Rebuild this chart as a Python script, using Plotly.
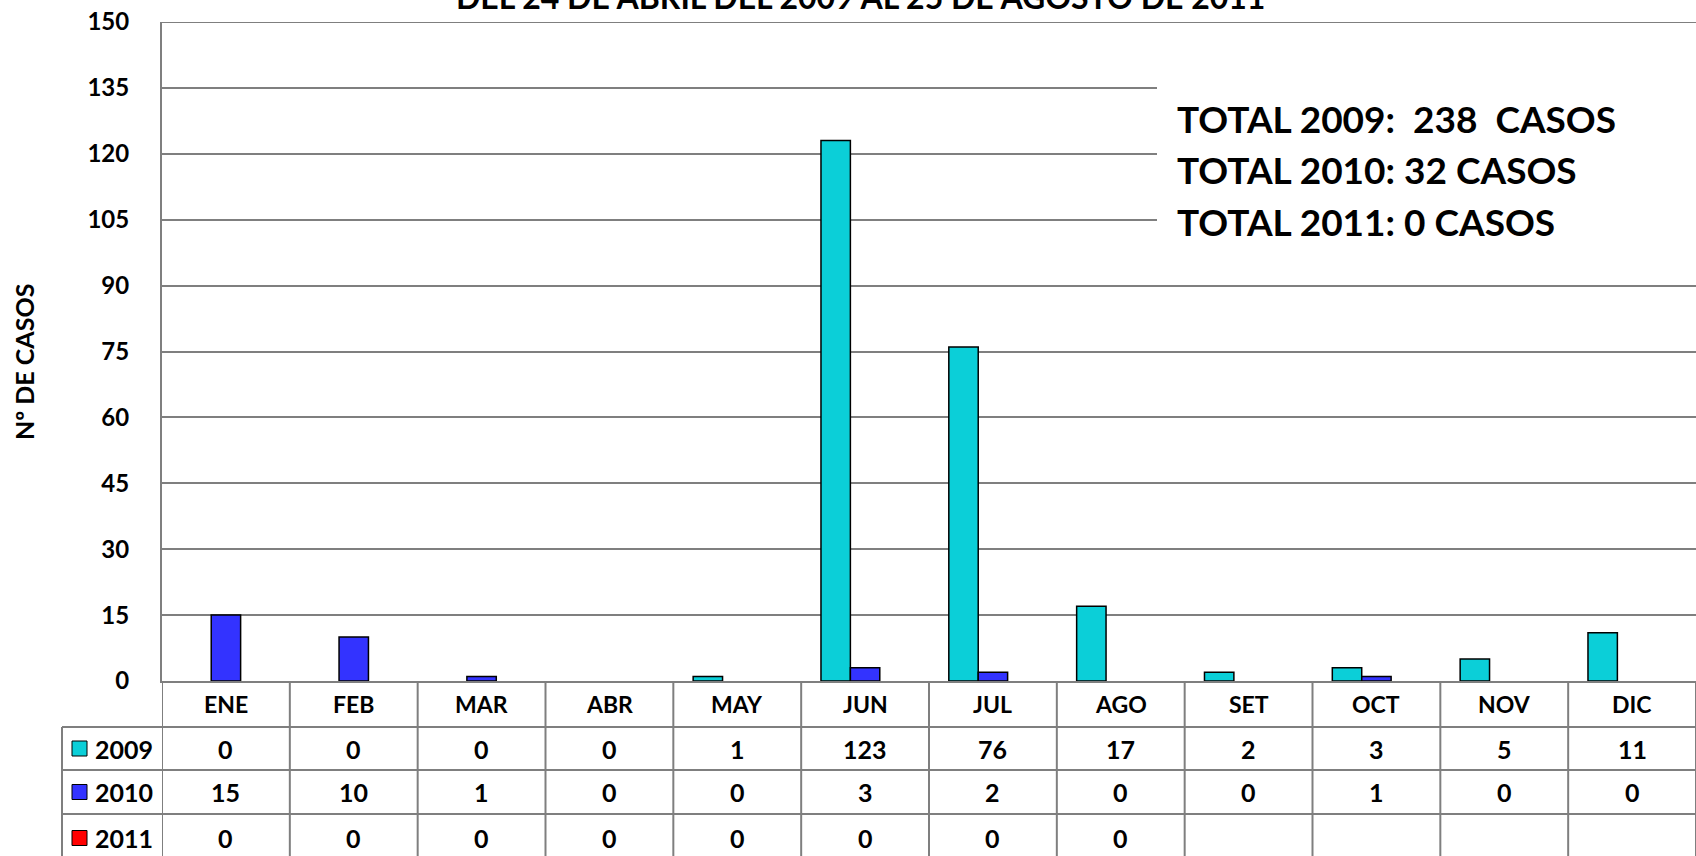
import plotly.graph_objects as go

months = ["ENE", "FEB", "MAR", "ABR", "MAY", "JUN", "JUL", "AGO", "SET", "OCT", "NOV", "DIC"]
series_names = ["2009", "2010", "2011"]
cases_2009 = [0, 0, 0, 0, 1, 123, 76, 17, 2, 3, 5, 11]
cases_2010 = [15, 10, 1, 0, 0, 3, 2, 0, 0, 1, 0, 0]
cases_2011 = [0, 0, 0, 0, 0, 0, 0, 0, None, None, None, None]
colors = ["#0BCFD8", "#3333FF", "#FF0000"]
y_ticks = [0, 15, 30, 45, 60, 75, 90, 105, 120, 135, 150]
totals_text = ["TOTAL 2009:  238  CASOS", "TOTAL 2010: 32 CASOS", "TOTAL 2011: 0 CASOS"]
title_text = "DEL 24 DE ABRIL DEL 2009 AL 25 DE AGOSTO DE 2011"
y_title = "Nº DE CASOS"

series = [cases_2009, cases_2010, cases_2011]

W, H = 1696, 856
S_LEFT, S_TOP, S_BOT = 162, 22, 681
L, T = S_LEFT, S_TOP
B = H - S_BOT
R = 0
PW, PH = W - L - R, H - T - B
FONT = "Lato, Open Sans, sans-serif"
GRID = "#7f7f7f"


def yp(spx):
    return (S_BOT - spx) / PH


def xp(spx):
    return (spx - S_LEFT) / PW


fig = go.Figure()
for name, vals, col in zip(series_names, series, colors):
    fig.add_trace(go.Bar(
        x=months, y=[v if v else None for v in vals], name=name,
        marker=dict(color=col, line=dict(color="black", width=1.5)),
        showlegend=False,
    ))

shapes = []
annotations = []

# top gridline (at the axis maximum)
shapes.append(dict(type="line", xref="paper", yref="y", x0=0, x1=1, y0=y_ticks[-1], y1=y_ticks[-1],
                   line=dict(color=GRID, width=2), layer="below"))

# totals box
shapes.append(dict(type="rect", xref="paper", yref="paper",
                   x0=xp(1157), x1=xp(1710), y0=yp(268), y1=yp(84),
                   fillcolor="white", line=dict(width=0), layer="above"))
for i, t in enumerate(totals_text):
    annotations.append(dict(xref="paper", yref="paper", x=xp(1175), y=yp(119 + 51 * i),
                            xanchor="left", yanchor="middle", showarrow=False,
                            text="<b>" + t + "</b>", font=dict(family=FONT, size=37, color="black")))

# table rows (pixel boundaries)
row_edges = [S_BOT, 727, 770, 814, 862]
label_left = 62
for ypx in row_edges[1:]:
    shapes.append(dict(type="line", xref="paper", yref="paper",
                       x0=xp(label_left), x1=1.0, y0=yp(ypx), y1=yp(ypx),
                       line=dict(color=GRID, width=2)))
for k in range(len(months) + 1):
    shapes.append(dict(type="line", xref="x", yref="paper",
                       x0=k - 0.5, x1=k - 0.5, y0=yp(S_BOT), y1=yp(862),
                       line=dict(color=GRID, width=2)))
shapes.append(dict(type="line", xref="paper", yref="paper",
                   x0=xp(label_left), x1=xp(label_left), y0=yp(727), y1=yp(862),
                   line=dict(color=GRID, width=2)))

# header month labels
hc = (row_edges[0] + row_edges[1]) / 2
for m in months:
    annotations.append(dict(xref="x", yref="paper", x=m, y=yp(hc), showarrow=False,
                            xanchor="center", yanchor="middle",
                            text="<b>" + m + "</b>", font=dict(family=FONT, size=23, color="black")))

# data rows
for r, (name, vals, col) in enumerate(zip(series_names, series, colors)):
    c = (row_edges[r + 1] + row_edges[r + 2]) / 2
    for m, v in zip(months, vals):
        if v is None:
            continue
        annotations.append(dict(xref="x", yref="paper", x=m, y=yp(c), showarrow=False,
                                xanchor="center", yanchor="middle",
                                text="<b>" + str(v) + "</b>", font=dict(family=FONT, size=25, color="black")))
    shapes.append(dict(type="rect", xref="paper", yref="paper",
                       x0=xp(72), x1=xp(87), y0=yp(c + 7.5), y1=yp(c - 7.5),
                       fillcolor=col, line=dict(color="black", width=1)))
    annotations.append(dict(xref="paper", yref="paper", x=xp(93), y=yp(c), showarrow=False,
                            xanchor="left", yanchor="middle",
                            text="<b>" + name + "</b>", font=dict(family=FONT, size=25, color="black")))

# y-axis title
annotations.append(dict(xref="paper", yref="paper", x=xp(24), y=yp(362), showarrow=False,
                        textangle=-90, xanchor="center", yanchor="middle",
                        text="<b>" + y_title + "</b>", font=dict(family=FONT, size=25, color="black")))
# title (partially cut off at the top)
annotations.append(dict(xref="paper", yref="paper", x=xp(860), y=yp(-4), showarrow=False,
                        xanchor="center", yanchor="middle",
                        text="<b>" + title_text + "</b>", font=dict(family=FONT, size=32, color="black")))

fig.update_layout(
    width=W, height=H,
    margin=dict(l=L, r=R, t=T, b=B, pad=0),
    paper_bgcolor="white", plot_bgcolor="white",
    barmode="group", bargap=0.31, bargroupgap=0,
    shapes=shapes, annotations=annotations,
    xaxis=dict(range=[-0.5, len(months) - 0.5], showticklabels=False, showgrid=False,
               showline=True, linecolor=GRID, linewidth=2, zeroline=False, ticks=""),
    yaxis=dict(range=[0, 150.001], tickvals=y_ticks, showgrid=True, gridcolor=GRID, gridwidth=2,
               showline=True, linecolor=GRID, linewidth=2, zeroline=False,
               ticks="outside", ticklen=26, tickcolor="rgba(0,0,0,0)",
               tickfont=dict(family=FONT, size=24, color="black", weight="bold")),
)

fig.write_html("out.html", config={"displayModeBar": False},
               post_script="document.body.style.margin='0';document.body.style.overflow='hidden';")
